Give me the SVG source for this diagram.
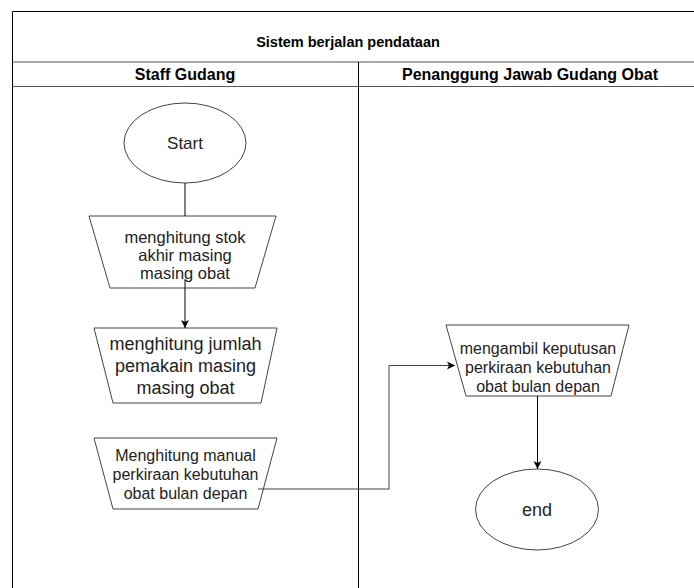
<svg xmlns="http://www.w3.org/2000/svg" width="694" height="588" viewBox="0 0 694 588">
  <defs>
    <marker id="arr" markerWidth="10" markerHeight="10" refX="9" refY="5" orient="auto" markerUnits="userSpaceOnUse">
      <path d="M1,1 L9,5 L1,9 L3,5 Z" fill="#000"/>
    </marker>
    <style>
      text { font-family: "Liberation Sans", Arial, sans-serif; fill: #222; text-anchor: middle; dominant-baseline: central; }
      .title { font-weight: bold; font-size: 14.5px; fill: #000; }
      .hdr { font-weight: bold; font-size: 16px; fill: #000; }
      .frame { fill: none; stroke: #000; stroke-width: 1; }
      .sep { fill: none; stroke: #555; stroke-width: 1.2; }
      .shape { fill: #fff; stroke: #444; stroke-width: 1; }
      .t16 { font-size: 16px; }
      .t165 { font-size: 16.5px; }
      .t17 { font-size: 17px; }
      .t18 { font-size: 18px; }
      .conn { fill: none; stroke: #000; stroke-width: 1; }
      .conn2 { fill: none; stroke: #444; stroke-width: 1; }
    </style>
  </defs>
  <rect width="694" height="588" fill="#fff"/>

  <g id="pool">
    <path class="frame" d="M12.5,600 V11.5 H700"/>
    <line class="sep" x1="12.5" y1="62" x2="700" y2="62"/>
    <line class="sep" x1="12.5" y1="86.5" x2="700" y2="86.5"/>
    <line class="frame" x1="358.5" y1="62" x2="358.5" y2="600"/>
    <text class="title" x="348" y="42">Sistem berjalan pendataan</text>
  </g>
  <g id="lane-staff">
    <text class="hdr" x="185" y="74.5">Staff Gudang</text>
  </g>
  <g id="lane-pj">
    <text class="hdr" x="530" y="74.5">Penanggung Jawab Gudang Obat</text>
  </g>

  <g id="start">
    <ellipse class="shape" cx="185" cy="143" rx="61" ry="40"/>
    <text class="t17" x="185" y="143">Start</text>
  </g>

  <g id="hitung-stok">
    <polygon class="shape" points="89,216 276,216 255,288 110,288"/>
    <text class="t165"><tspan x="185" y="237">menghitung stok</tspan><tspan x="185" y="255">akhir masing</tspan><tspan x="185" y="273">masing obat</tspan></text>
  </g>

  <g id="hitung-pemakaian">
    <polygon class="shape" points="94,328 277,328 261,403 113,403"/>
    <text class="t18"><tspan x="185.5" y="344">menghitung jumlah</tspan><tspan x="185.5" y="366">pemakain masing</tspan><tspan x="185.5" y="388">masing obat</tspan></text>
  </g>

  <g id="hitung-manual">
    <polygon class="shape" points="94,438 277,438 258,509 113,509"/>
    <text class="t16"><tspan x="185.5" y="455">Menghitung manual</tspan><tspan x="185.5" y="474">perkiraan kebutuhan</tspan><tspan x="185.5" y="493">obat bulan depan</tspan></text>
  </g>

  <g id="keputusan">
    <polygon class="shape" points="446,325 629,325 611,396 466,396"/>
    <text class="t16"><tspan x="538" y="348">mengambil keputusan</tspan><tspan x="538" y="367">perkiraan kebutuhan</tspan><tspan x="538" y="386">obat bulan depan</tspan></text>
  </g>

  <g id="end">
    <ellipse class="shape" cx="537" cy="509.5" rx="61.5" ry="40.5"/>
    <text class="t18" x="537" y="510">end</text>
  </g>

  <g id="connectors">
    <line class="conn" x1="185" y1="183" x2="185" y2="216"/>
    <line class="conn" x1="185" y1="279" x2="185" y2="328" marker-end="url(#arr)"/>
    <polyline class="conn2" points="258,489 389,489 389,365.5 455,365.5" marker-end="url(#arr)"/>
    <line class="conn" x1="537.5" y1="396" x2="537.5" y2="469" marker-end="url(#arr)"/>
  </g>
</svg>
